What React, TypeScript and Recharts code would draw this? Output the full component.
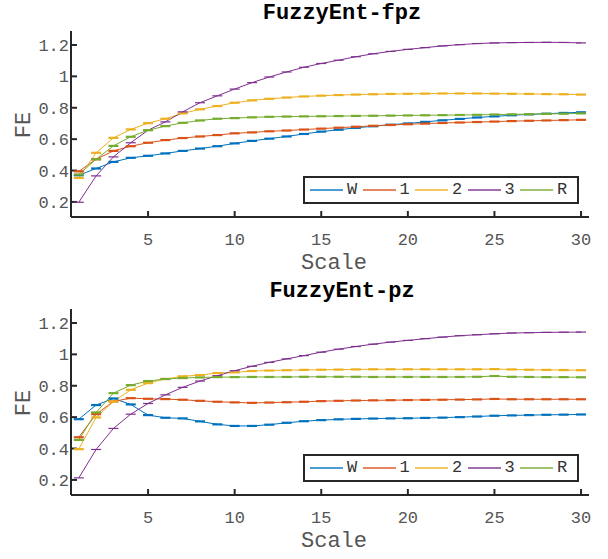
import React from 'react';
import { LineChart, Line, XAxis, YAxis, Legend } from 'recharts';

const scales = [1, 2, 3, 4, 5, 6, 7, 8, 9, 10, 11, 12, 13, 14, 15, 16, 17, 18, 19, 20, 21, 22, 23, 24, 25, 26, 27, 28, 29, 30];
const seriesNames = ['W', '1', '2', '3', 'R'];
const seriesColors = ['#0072BD', '#D95319', '#EDB120', '#7E2F8E', '#77AC30'];
const xTicks = [5, 10, 15, 20, 25, 30];
const yTicks = [0.2, 0.4, 0.6, 0.8, 1, 1.2];
const titles = ['FuzzyEnt-fpz', 'FuzzyEnt-pz'];

// FuzzyEnt-fpz
const fpzW = [0.370, 0.413, 0.455, 0.481, 0.494, 0.509, 0.525, 0.540, 0.555, 0.573, 0.589, 0.603, 0.617, 0.633, 0.648, 0.660, 0.672, 0.682, 0.692, 0.700, 0.710, 0.720, 0.729, 0.738, 0.745, 0.752, 0.758, 0.762, 0.767, 0.771];
const fpz1 = [0.395, 0.472, 0.525, 0.555, 0.577, 0.594, 0.607, 0.617, 0.626, 0.637, 0.643, 0.650, 0.655, 0.661, 0.667, 0.673, 0.679, 0.685, 0.690, 0.695, 0.699, 0.703, 0.706, 0.709, 0.712, 0.715, 0.717, 0.719, 0.721, 0.723];
const fpz2 = [0.353, 0.513, 0.608, 0.662, 0.702, 0.730, 0.764, 0.790, 0.811, 0.832, 0.847, 0.857, 0.865, 0.872, 0.877, 0.881, 0.884, 0.886, 0.888, 0.889, 0.890, 0.891, 0.891, 0.891, 0.890, 0.889, 0.888, 0.887, 0.886, 0.884];
const fpz3 = [0.198, 0.366, 0.487, 0.577, 0.657, 0.710, 0.774, 0.832, 0.876, 0.919, 0.960, 0.996, 1.028, 1.058, 1.082, 1.103, 1.125, 1.144, 1.159, 1.172, 1.183, 1.194, 1.202, 1.209, 1.213, 1.215, 1.216, 1.217, 1.216, 1.213];
const fpzR = [0.375, 0.472, 0.557, 0.615, 0.657, 0.683, 0.704, 0.719, 0.730, 0.734, 0.739, 0.742, 0.744, 0.745, 0.746, 0.747, 0.748, 0.749, 0.750, 0.751, 0.752, 0.753, 0.754, 0.755, 0.757, 0.758, 0.759, 0.761, 0.762, 0.764];

// FuzzyEnt-pz
const pzW = [0.587, 0.677, 0.719, 0.681, 0.613, 0.596, 0.592, 0.573, 0.554, 0.544, 0.544, 0.552, 0.564, 0.574, 0.581, 0.586, 0.589, 0.591, 0.592, 0.593, 0.595, 0.597, 0.600, 0.604, 0.609, 0.611, 0.613, 0.615, 0.616, 0.617];
const pz1 = [0.472, 0.619, 0.700, 0.721, 0.717, 0.715, 0.711, 0.704, 0.698, 0.694, 0.691, 0.693, 0.695, 0.698, 0.702, 0.704, 0.706, 0.707, 0.708, 0.709, 0.710, 0.711, 0.712, 0.713, 0.716, 0.714, 0.714, 0.714, 0.714, 0.714];
const pz2 = [0.396, 0.598, 0.700, 0.774, 0.817, 0.843, 0.860, 0.868, 0.881, 0.885, 0.894, 0.897, 0.899, 0.901, 0.902, 0.903, 0.904, 0.905, 0.905, 0.905, 0.905, 0.905, 0.905, 0.905, 0.906, 0.904, 0.902, 0.901, 0.900, 0.899];
const pz3 = [0.213, 0.394, 0.528, 0.619, 0.687, 0.742, 0.790, 0.830, 0.864, 0.896, 0.924, 0.949, 0.971, 0.992, 1.014, 1.033, 1.050, 1.065, 1.078, 1.089, 1.100, 1.110, 1.119, 1.125, 1.131, 1.136, 1.138, 1.140, 1.141, 1.142];
const pzR = [0.455, 0.630, 0.753, 0.804, 0.830, 0.843, 0.849, 0.853, 0.855, 0.855, 0.856, 0.856, 0.856, 0.857, 0.857, 0.857, 0.857, 0.856, 0.856, 0.856, 0.856, 0.856, 0.856, 0.857, 0.862, 0.857, 0.856, 0.855, 0.855, 0.854];

const buildData = (series: number[][]) =>
  scales.map((s, i) => {
    const row: any = { scale: s };
    seriesNames.forEach((n, k) => { row[n] = series[k][i]; });
    return row;
  });

const fpzData = buildData([fpzW, fpz1, fpz2, fpz3, fpzR]);
const pzData = buildData([pzW, pz1, pz2, pz3, pzR]);

const AXIS = '#262626';
const TEXT = '#555555';
const MONO = '"Liberation Mono", "DejaVu Sans Mono", monospace';

const CapDot = (props: any) => {
  const { cx, cy, stroke, dataKey } = props;
  if (cx == null || cy == null) return <g />;
  const w = dataKey === '3' ? 1.2 : 2.2;
  return <line x1={cx - 5} x2={cx + 5} y1={cy} y2={cy} stroke={stroke} strokeWidth={w} />;
};

const LegendBox = () => (
  <div style={{
    boxSizing: 'border-box', width: 276, height: 28, border: `2px solid ${AXIS}`, background: '#fff',
    display: 'flex', alignItems: 'center', paddingLeft: 5, fontFamily: MONO, fontSize: 17, color: '#333',
  }}>
    {seriesNames.map((n, i) => (
      <div key={n} style={{ display: 'flex', alignItems: 'center', width: 52.5 }}>
        <div style={{ width: 33, height: 2, background: seriesColors[i], opacity: 0.7 }} />
        <span style={{ marginLeft: 4, lineHeight: '20px' }}>{n}</span>
      </div>
    ))}
  </div>
);

const Panel = ({ title, data, top }: { title: string; data: any[]; top: number }) => (
  <div style={{ position: 'absolute', left: 0, top, width: 608, height: 280 }}>
    <div style={{ position: 'absolute', left: 0, top: 1, width: 684, textAlign: 'center', fontFamily: MONO, fontWeight: 'bold', fontSize: 22, color: '#000' }}>{title}</div>
    <div style={{ position: 'absolute', left: 9, top: 110, width: 30, height: 30, display: 'flex', alignItems: 'center', justifyContent: 'center', transform: 'rotate(-90deg)', fontFamily: MONO, fontSize: 22, color: TEXT }}>FE</div>
    <div style={{ position: 'absolute', left: 75, top: 251, width: 518, textAlign: 'center', fontFamily: MONO, fontSize: 22, color: TEXT }}>Scale</div>
    <LineChart width={608} height={280} data={data} margin={{ top: 31, right: 19, bottom: 0, left: 0 }}>
      <XAxis xAxisId="b" dataKey="scale" type="number" domain={[0.55, 30.46]} ticks={xTicks} allowDataOverflow
        orientation="bottom" height={63} tickSize={-6} tickMargin={22}
        axisLine={{ stroke: AXIS, strokeWidth: 2 }} tickLine={{ stroke: AXIS, strokeWidth: 2 }}
        tick={{ fill: TEXT, fontSize: 17, fontFamily: MONO }} />
      <XAxis xAxisId="t" dataKey="scale" type="number" domain={[0.55, 30.46]} ticks={xTicks} allowDataOverflow
        orientation="top" height={0} tickSize={-6} tick={false}
        axisLine={{ stroke: AXIS, strokeWidth: 2 }} tickLine={{ stroke: AXIS, strokeWidth: 2 }} />
      <YAxis yAxisId="l" type="number" domain={[0.104, 1.289]} ticks={yTicks} allowDataOverflow
        orientation="left" width={71} tickSize={-6} tickMargin={8}
        axisLine={{ stroke: AXIS, strokeWidth: 2 }} tickLine={{ stroke: AXIS, strokeWidth: 2 }}
        tick={{ fill: TEXT, fontSize: 17, fontFamily: MONO }} />
      <YAxis yAxisId="r" type="number" domain={[0.104, 1.289]} ticks={yTicks} allowDataOverflow
        orientation="right" width={0} tickSize={-6} tick={false}
        axisLine={{ stroke: AXIS, strokeWidth: 2 }} tickLine={{ stroke: AXIS, strokeWidth: 2 }} />
      {seriesNames.map((n, i) => (
        <Line key={n} xAxisId="b" yAxisId="l" dataKey={n} stroke={seriesColors[i]} strokeWidth={1}
          dot={<CapDot />} activeDot={false} isAnimationActive={false} type="linear" />
      ))}
      <Legend layout="horizontal" verticalAlign="middle" align="center"
        wrapperStyle={{ left: 303, top: 176, width: 276, height: 28 }} content={() => <LegendBox />} />
    </LineChart>
  </div>
);

export default function App() {
  return (
    <div style={{ position: 'absolute', left: 0, top: 0, width: 608, height: 559, background: '#fff', overflow: 'hidden' }}>
      <Panel title={titles[0]} data={fpzData} top={0} />
      <Panel title={titles[1]} data={pzData} top={278} />
    </div>
  );
}
